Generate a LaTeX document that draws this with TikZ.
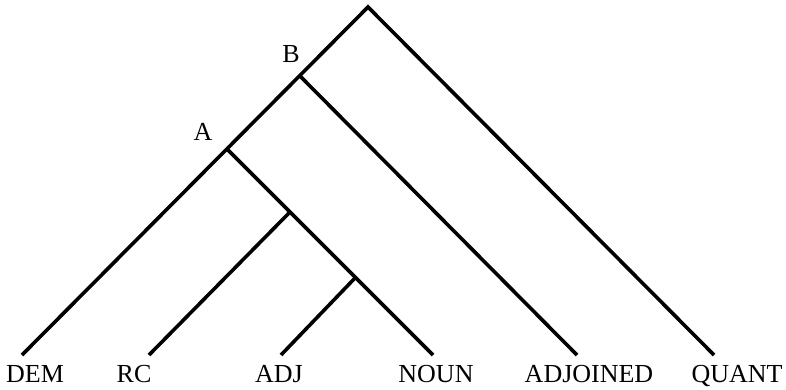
\documentclass[tikz,border=0pt]{standalone}
\usepackage{fontspec}
\setmainfont{Liberation Serif}
\begin{document}
\begin{tikzpicture}[x=1pt,y=-1pt,
  branch/.style={line width=3.6pt,line cap=butt,black},
  lab/.style={anchor=base,inner sep=0pt,font=\fontsize{26}{30}\selectfont}]
\useasboundingbox (0,0) rectangle (786,389);
\coordinate (top) at (368,7);
\coordinate (B) at (300,76);
\coordinate (A) at (228,150);
\coordinate (n1) at (290,212);
\coordinate (n2) at (355,278);
\coordinate (dem) at (22,355);
\coordinate (rc) at (149,355);
\coordinate (adj) at (281,355);
\coordinate (noun) at (433,355);
\coordinate (adjoined) at (577,355);
\coordinate (quant) at (714,355);
\draw[branch,line join=miter] (dem) -- (top) -- (quant);
\draw[branch] (B) -- (adjoined);
\draw[branch] (A) -- (noun);
\draw[branch] (n1) -- (rc);
\draw[branch] (n2) -- (adj);
\node[lab] (lDEM) at (35,382) {DEM};
\node[lab] (lRC) at (134,382) {RC};
\node[lab] (lADJ) at (279,382) {ADJ};
\node[lab] (lNOUN) at (436,382) {NOUN};
\node[lab] (lADJOINED) at (589,382) {ADJOINED};
\node[lab] (lQUANT) at (737,382) {QUANT};
\node[lab] (lB) at (291,62) {B};
\node[lab] (lA) at (203,140) {A};
\end{tikzpicture}
\end{document}
